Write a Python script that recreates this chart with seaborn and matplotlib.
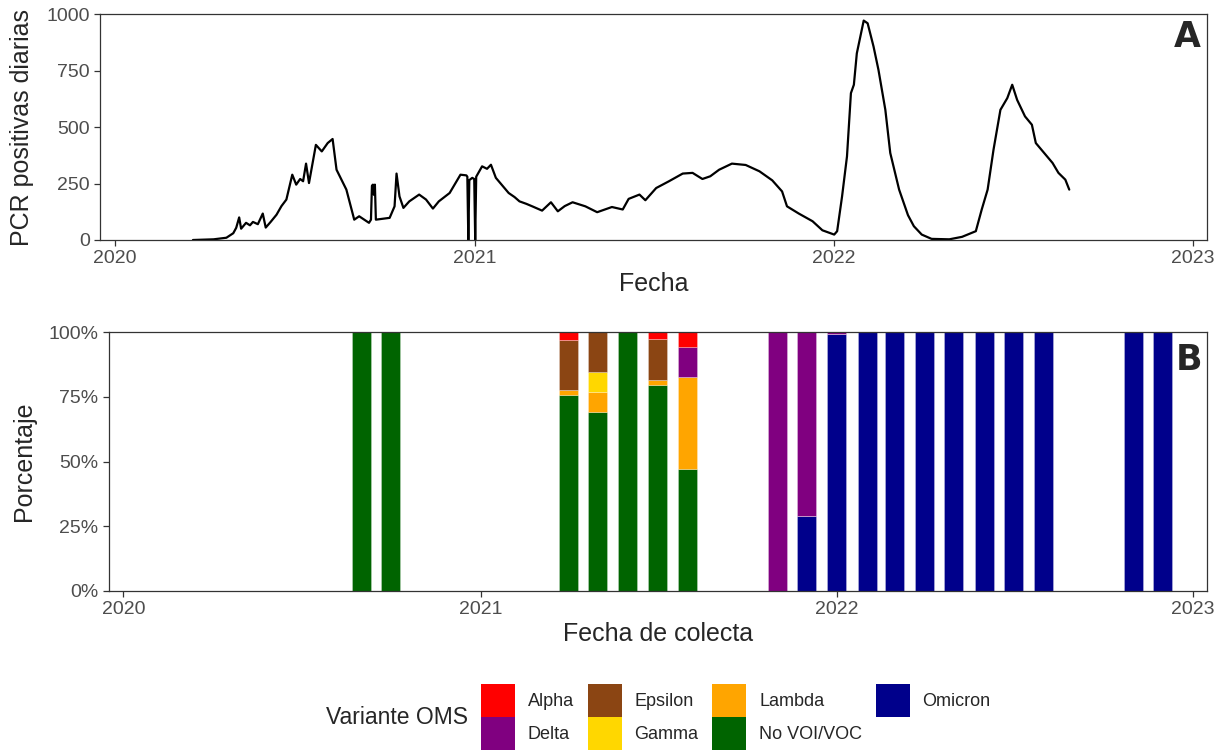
"""Figura: PCR positivas diarias (A) y variantes OMS por mes de colecta (B)."""

import matplotlib
matplotlib.use("Agg")
import matplotlib.pyplot as plt
import matplotlib.dates as mdates
import matplotlib.ticker as mticker
from matplotlib.patches import Patch
import pandas as pd
import seaborn as sns

sns.set_style("ticks")
plt.rcParams.update({
    "font.family": ["Liberation Sans", "DejaVu Sans"],
    "axes.edgecolor": "#333333",
    "axes.linewidth": 0.9,
    "xtick.color": "#333333",
    "ytick.color": "#333333",
    "xtick.labelcolor": "#4D4D4D",
    "ytick.labelcolor": "#4D4D4D",
    "xtick.major.size": 4,
    "ytick.major.size": 4,
    "xtick.major.width": 0.9,
    "ytick.major.width": 0.9,
    "xtick.labelsize": 14,
    "ytick.labelsize": 14,
    "axes.labelsize": 18,
})

# ── Panel A: PCR positivas diarias ──────────────────────────────────
PCR_FECHA = [
    "2020-03-20", "2020-04-10", "2020-04-23", "2020-04-30", "2020-05-03", "2020-05-06",
    "2020-05-08", "2020-05-13", "2020-05-17", "2020-05-20", "2020-05-25", "2020-05-30",
    "2020-06-02", "2020-06-07", "2020-06-13", "2020-06-18", "2020-06-23", "2020-06-29",
    "2020-07-03", "2020-07-07", "2020-07-10", "2020-07-13", "2020-07-16", "2020-07-23",
    "2020-07-29", "2020-08-04", "2020-08-09", "2020-08-13", "2020-08-23", "2020-08-31",
    "2020-09-05", "2020-09-15", "2020-09-17", "2020-09-18", "2020-09-19", "2020-09-20",
    "2020-09-21", "2020-09-22", "2020-10-06", "2020-10-11", "2020-10-13", "2020-10-16",
    "2020-10-20", "2020-10-26", "2020-11-05", "2020-11-12", "2020-11-19", "2020-11-25",
    "2020-12-06", "2020-12-17", "2020-12-23", "2020-12-24", "2020-12-25", "2020-12-26",
    "2020-12-29", "2020-12-31", "2021-01-01", "2021-01-02", "2021-01-08", "2021-01-13",
    "2021-01-17", "2021-01-22", "2021-02-01", "2021-02-04", "2021-02-10", "2021-02-15",
    "2021-02-22", "2021-02-28", "2021-03-10", "2021-03-19", "2021-03-26", "2021-04-02",
    "2021-04-10", "2021-04-23", "2021-05-05", "2021-05-20", "2021-05-31", "2021-06-06",
    "2021-06-17", "2021-06-23", "2021-07-04", "2021-07-17", "2021-07-31", "2021-08-10",
    "2021-08-20", "2021-08-28", "2021-09-06", "2021-09-19", "2021-10-03", "2021-10-17",
    "2021-10-30", "2021-11-09", "2021-11-14", "2021-11-26", "2021-12-10", "2021-12-20",
    "2022-01-01", "2022-01-04", "2022-01-09", "2022-01-14", "2022-01-18", "2022-01-21",
    "2022-01-24", "2022-01-31", "2022-02-04", "2022-02-10", "2022-02-15", "2022-02-22",
    "2022-02-27", "2022-03-08", "2022-03-17", "2022-03-23", "2022-03-31", "2022-04-10",
    "2022-04-28", "2022-05-11", "2022-05-25", "2022-05-31", "2022-06-06", "2022-06-12",
    "2022-06-19", "2022-06-26", "2022-07-01", "2022-07-06", "2022-07-14", "2022-07-21",
    "2022-07-25", "2022-08-04", "2022-08-11", "2022-08-17", "2022-08-24", "2022-08-28",
]
PCR_VALOR = [
    0, 3, 10, 30, 54, 100,
    50, 76, 65, 80, 70, 117,
    55, 80, 112, 150, 179, 289,
    245, 270, 260, 338, 252, 421,
    392, 429, 447, 311, 223, 90,
    105, 76, 90, 240, 245, 200,
    245, 90, 98, 149, 294, 193,
    142, 171, 201, 179, 139, 171,
    208, 289, 286, 280, 0, 265,
    275, 270, 0, 280, 326, 315,
    333, 275, 223, 208, 190, 171,
    160, 149, 130, 167, 127, 150,
    167, 149, 123, 146, 135, 182,
    201, 176, 230, 260, 294, 297,
    270, 282, 311, 338, 332, 304,
    264, 215, 149, 117, 83, 43,
    24, 39, 193, 370, 650, 687,
    826, 971, 959, 856, 753, 576,
    385, 223, 110, 61, 24, 5,
    3, 14, 39, 135, 223, 400,
    576, 628, 687, 620, 547, 510,
    429, 377, 341, 297, 267, 223,
]

# ── Panel B: porcentaje de variantes por mes de colecta ─────────────
MESES = [
    "2020-09-01", "2020-10-01", "2021-04-01", "2021-05-01", "2021-06-01", "2021-07-01",
    "2021-08-01", "2021-11-01", "2021-12-01", "2022-01-01", "2022-02-01", "2022-03-01",
    "2022-04-01", "2022-05-01", "2022-06-01", "2022-07-01", "2022-08-01", "2022-11-01",
    "2022-12-01",
]
ALPHA    = [0, 0, 3.0, 0, 0, 2.6, 5.7, 0, 0, 0, 0, 0, 0, 0, 0, 0, 0, 0, 0]
DELTA    = [0, 0, 0, 0, 0, 0, 11.7, 100, 71, 0.5, 0, 0, 0, 0, 0, 0, 0, 0, 0]
EPSILON  = [0, 0, 19.2, 15.4, 0, 15.9, 0, 0, 0, 0, 0, 0, 0, 0, 0, 0, 0, 0, 0]
GAMMA    = [0, 0, 0, 7.7, 0, 0, 0, 0, 0, 0, 0, 0, 0, 0, 0, 0, 0, 0, 0]
LAMBDA   = [0, 0, 2.2, 7.7, 0, 1.7, 35.6, 0, 0, 0, 0, 0, 0, 0, 0, 0, 0, 0, 0]
NO_VOI   = [100, 100, 75.6, 69.2, 100, 79.8, 47.0, 0, 0, 0, 0, 0, 0, 0, 0, 0, 0, 0, 0]
OMICRON  = [0, 0, 0, 0, 0, 0, 0, 0, 29, 99.5, 100, 100, 100, 100, 100, 100, 100, 100, 100]

VARIANTES = ["Alpha", "Delta", "Epsilon", "Gamma", "Lambda", "No VOI/VOC", "Omicron"]
COLORES = ["#FF0000", "#800080", "#8B4513", "#FFD700", "#FFA500", "#006400", "#00008B"]

X_MIN, X_MAX = pd.Timestamp("2019-12-17"), pd.Timestamp("2023-01-15")


def main():
    pcr = pd.DataFrame({"Fecha": pd.to_datetime(PCR_FECHA), "PCR": PCR_VALOR})
    pct = pd.DataFrame({
        "Mes": pd.to_datetime(MESES),
        "Alpha": ALPHA, "Delta": DELTA, "Epsilon": EPSILON, "Gamma": GAMMA,
        "Lambda": LAMBDA, "No VOI/VOC": NO_VOI, "Omicron": OMICRON,
    })

    fig = plt.figure(figsize=(12.21, 7.5), dpi=100)
    ax1 = fig.add_axes([0.0823, 0.680, 0.9062, 0.3013])
    ax2 = fig.add_axes([0.0890, 0.2124, 0.8993, 0.3445])

    # ── A ──
    sns.lineplot(data=pcr, x="Fecha", y="PCR", color="black", linewidth=1.6, ax=ax1)
    ax1.set_ylim(0, 1000)
    ax1.set_yticks([0, 250, 500, 750, 1000])
    ax1.set_ylabel("PCR positivas diarias", labelpad=9)
    ax1.set_xlabel("Fecha", labelpad=3)
    ax1.text(0.994, 0.975, "A", transform=ax1.transAxes, ha="right", va="top",
             fontsize=25, fontweight="heavy", family="DejaVu Sans")

    # ── B: barras apiladas, Omicron abajo y Alpha arriba ──
    base = pd.Series(0.0, index=pct.index)
    for var, col in reversed(list(zip(VARIANTES, COLORES))):
        ax2.bar(pct["Mes"], pct[var], width=19.5, bottom=base, color=col,
                edgecolor=(1, 1, 1, 0.3), linewidth=0.6, align="center")
        base = base + pct[var]
    ax2.set_ylim(0, 100)
    ax2.set_yticks([0, 25, 50, 75, 100])
    ax2.yaxis.set_major_formatter(mticker.PercentFormatter(xmax=100, decimals=0))
    ax2.set_ylabel("Porcentaje", labelpad=9)
    ax2.set_xlabel("Fecha de colecta", labelpad=3)
    ax2.text(0.996, 0.96, "B", transform=ax2.transAxes, ha="right", va="top",
             fontsize=25, fontweight="heavy", family="DejaVu Sans")

    for ax in (ax1, ax2):
        ax.set_xlim(X_MIN, X_MAX)
        ax.xaxis.set_major_locator(mdates.YearLocator())
        ax.xaxis.set_major_formatter(mdates.DateFormatter("%Y"))
        for side in ("top", "right", "bottom", "left"):
            ax.spines[side].set_visible(True)
        ax.grid(False)

    fig.align_ylabels([ax1, ax2])

    # ── Leyenda ──
    handles = [Patch(facecolor=c, edgecolor="none") for c in COLORES]
    fig.legend(handles, VARIANTES, ncol=4, loc="upper left",
               bbox_to_anchor=(481 / 1221, 1 - 684 / 750), frameon=False,
               fontsize=13, handlelength=1.9, handleheight=2.4, labelspacing=0.05,
               columnspacing=0.75, handletextpad=0.7, borderpad=0, borderaxespad=0)
    fig.text(326 / 1221, 1 - 717 / 750, "Variante OMS", ha="left", va="center", fontsize=16.5)

    fig.savefig("out.png", dpi=100)
    plt.close(fig)


if __name__ == "__main__":
    main()
